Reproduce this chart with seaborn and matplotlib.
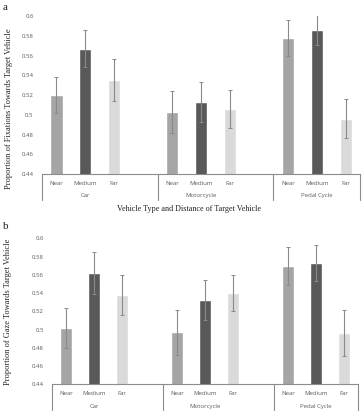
import numpy as np
import pandas as pd
import matplotlib
matplotlib.use("Agg")
import matplotlib.pyplot as plt
import matplotlib.transforms as mtransforms
import seaborn as sns

vehicles = ["Car", "Motorcycle", "Pedal Cycle"]
distances = ["Near", "Medium", "Far"]
fix_means = [0.520, 0.567, 0.535, 0.503, 0.513, 0.506, 0.578, 0.586, 0.496]
fix_err = [0.018, 0.019, 0.021, 0.021, 0.020, 0.019, 0.018, 0.015, 0.020]
gaze_means = [0.502, 0.562, 0.538, 0.497, 0.532, 0.540, 0.570, 0.573, 0.496]
gaze_err = [0.022, 0.023, 0.022, 0.025, 0.022, 0.020, 0.021, 0.020, 0.025]
yticks = [0.44, 0.46, 0.48, 0.5, 0.52, 0.54, 0.56, 0.58, 0.6]
ytick_labels = ["0.44", "0.46", "0.48", "0.5", "0.52", "0.54", "0.56", "0.58", "0.6"]

palette = {"Near": "#a5a5a5", "Medium": "#595959", "Far": "#dadada"}
serif = ["Liberation Serif", "DejaVu Serif"]
sans = ["Open Sans", "DejaVu Sans"]

sns.set_theme(style="white")
plt.rcParams["font.family"] = sans

fig = plt.figure(figsize=(3.64, 4.18), dpi=100)

# category order with gaps between vehicle groups
order = []
for i, v in enumerate(vehicles):
    for d in distances:
        order.append(f"{v}|{d}")
    if i < len(vehicles) - 1:
        order.append(f"gap{i}")


def make_df(means, errs):
    rows = []
    k = 0
    for v in vehicles:
        for d in distances:
            rows.append({"key": f"{v}|{d}", "Vehicle": v, "Distance": d,
                         "value": means[k], "err": errs[k]})
            k += 1
    return pd.DataFrame(rows)


def draw(ax, means, errs, ylabel, ylab_xy, lab_y, grp_y, line_y):
    df = make_df(means, errs)
    sns.barplot(data=df, x="key", y="value", hue="Distance", order=order,
                hue_order=distances, palette=palette, dodge=False, width=0.42,
                errorbar=None, legend=False, ax=ax, saturation=1)
    pos = [order.index(k) for k in df["key"]]
    ax.errorbar(pos, df["value"], yerr=df["err"], fmt="none",
                ecolor="#8a8a8a", elinewidth=0.8, capsize=1.6, capthick=0.7)
    ax.set_ylim(0.44, 0.6)
    ax.set_xlim(-0.5, len(order) - 0.5)
    ax.set_yticks(yticks)
    ax.set_yticklabels(ytick_labels, fontsize=4.3, color="#595959")
    ax.tick_params(axis="y", length=0, pad=6)
    ax.set_xticks([])
    ax.set_xlabel("")
    ax.set_ylabel(ylabel, fontsize=6.0, family=serif, color="#222222")
    ax.yaxis.set_label_coords(*ylab_xy)
    for s in ["top", "right", "left"]:
        ax.spines[s].set_visible(False)
    ax.spines["bottom"].set_color("#8c8c8c")
    ax.spines["bottom"].set_linewidth(0.8)
    trans = mtransforms.blended_transform_factory(ax.transData, ax.transAxes)
    for p, d in zip(pos, df["Distance"]):
        ax.text(p, lab_y, d, transform=trans, ha="center", va="center",
                fontsize=4.3, color="#595959")
    for i, v in enumerate(vehicles):
        ax.text(i * 4 + 1, grp_y, v, transform=trans, ha="center", va="center",
                fontsize=4.3, color="#595959")
    for xb in [-0.5, 3.5, 7.5, 10.5]:
        ax.plot([xb, xb], [0, line_y], transform=trans, color="#8c8c8c",
                lw=0.8, clip_on=False)


ax1 = fig.add_axes([0.1154, 0.5837, 0.874, 0.378])
draw(ax1, fix_means, fix_err, "Proportion of Fixations Towards Target Vehicle",
     (-0.091, 0.415), -0.057, -0.133, -0.165)
ax2 = fig.add_axes([0.1437, 0.0806, 0.839, 0.349])
draw(ax2, gaze_means, gaze_err, "Proportion of Gaze Towards Target Vehicle",
     (-0.132, 0.5), -0.062, -0.151, -0.176)

fig.text(0.519, 1 - 209 / 418, "Vehicle Type and Distance of Target Vehicle",
         ha="center", va="center", fontsize=5.9, family=serif, color="#222222")
fig.text(3 / 364, 1 - 8 / 418, "a", ha="left", va="center", fontsize=8,
         family=serif, color="#222222")
fig.text(3 / 364, 1 - 226 / 418, "b", ha="left", va="center", fontsize=8,
         family=serif, color="#222222")

fig.savefig("out.png", dpi=100, facecolor="white")
